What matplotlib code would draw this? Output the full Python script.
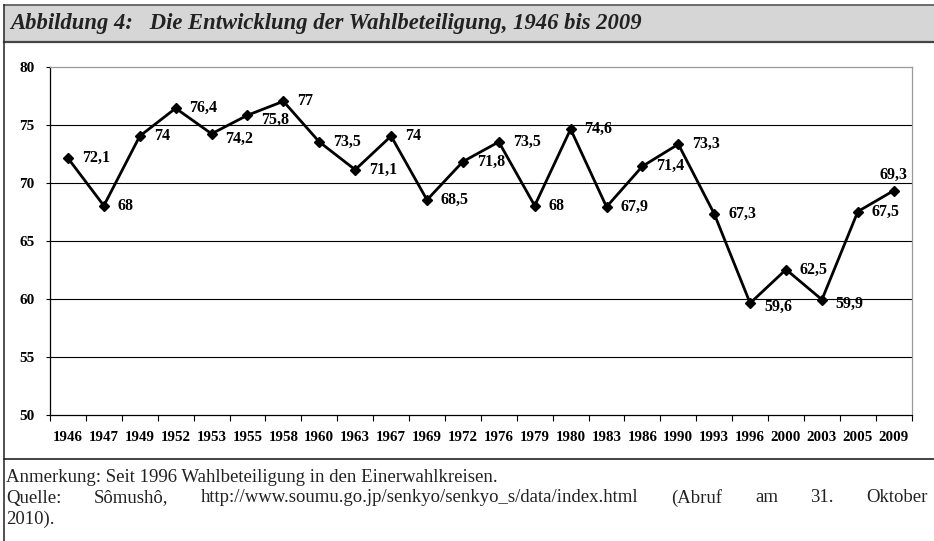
import matplotlib
matplotlib.use("Agg")
import matplotlib.pyplot as plt
from matplotlib.lines import Line2D
from matplotlib.patches import Rectangle

years = ["1946", "1947", "1949", "1952", "1953", "1955", "1958", "1960", "1963", "1967",
         "1969", "1972", "1976", "1979", "1980", "1983", "1986", "1990", "1993", "1996",
         "2000", "2003", "2005", "2009"]
turnout = [72.1, 68.0, 74.0, 76.4, 74.2, 75.8, 77.0, 73.5, 71.1, 74.0,
           68.5, 71.8, 73.5, 68.0, 74.6, 67.9, 71.4, 73.3, 67.3, 59.6,
           62.5, 59.9, 67.5, 69.3]
y_ticks = [50, 55, 60, 65, 70, 75, 80]

title = "Abbildung 4:   Die Entwicklung der Wahlbeteiligung, 1946 bis 2009"
note1 = "Anmerkung: Seit 1996 Wahlbeteiligung in den Einerwahlkreisen."
note2 = "Quelle: Sômushô, http://www.soumu.go.jp/senkyo/senkyo_s/data/index.html (Abruf am 31. Oktober"
note3 = "2010)."

W, H = 934, 541
serif = "Liberation Serif"

fig = plt.figure(figsize=(W / 100, H / 100), dpi=100)

def fx(px):
    return px / W

def fy(py):
    return 1 - py / H

# frame: title band, left border, separator
fig.add_artist(Rectangle((fx(4), fy(42)), 1 - fx(4), fy(5) - fy(42),
                         transform=fig.transFigure, facecolor="#d6d6d6",
                         edgecolor="none", zorder=0))
fig.add_artist(Line2D([fx(4), 1], [fy(5), fy(5)], color="#555555", lw=1.2))
fig.add_artist(Line2D([fx(4), 1], [fy(42), fy(42)], color="#444444", lw=1.6))
fig.add_artist(Line2D([fx(4), fx(4)], [fy(5), 0], color="#333333", lw=1.2))
fig.add_artist(Line2D([fx(4), 1], [fy(459), fy(459)], color="#222222", lw=1.2))

fig.text(fx(10), fy(24), title, family=serif, style="italic", fontweight="bold",
         fontsize=16.3, va="center", ha="left", color="#222222")

ax = fig.add_axes([fx(50), fy(414.5), fx(911.7) - fx(50), fy(66.5) - fy(414.5)])
x = list(range(len(years)))
ax.plot(x, turnout, color="black", lw=2.0, marker="D", markersize=5.5, zorder=3)

# label offsets (points) - mostly right of the marker
offsets = {4: (10, -4), 5: (10, -3), 19: (10, -3), 21: (10, -3), 23: (0, 11)}
for i, v in enumerate(turnout):
    lab = ("%g" % v).replace(".", ",")
    dx, dy = offsets.get(i, (10, 0))
    ha = "center" if i == 23 else "left"
    ax.annotate(lab, (i, v), xytext=(dx, dy), textcoords="offset points",
                ha=ha, va="center", family=serif, fontweight="bold", fontsize=11.5)

ax.set_xlim(-0.5, len(years) - 0.5)
ax.set_ylim(50, 80)
ax.set_yticks(y_ticks)
ax.set_yticklabels([str(t) for t in y_ticks], family=serif, fontweight="bold", fontsize=11)
ax.set_xticks(x)
ax.set_xticklabels(years, family=serif, fontweight="bold", fontsize=10.8)
ax.set_xticks([i - 0.5 for i in range(len(years) + 1)], minor=True)
ax.tick_params(axis="x", which="major", length=0, pad=12)
ax.tick_params(axis="x", which="minor", length=4, width=0.8, direction="out")
ax.tick_params(axis="y", length=3, width=0.8, pad=8)

for t in y_ticks[1:-1]:
    ax.axhline(t, color="black", lw=0.8, zorder=1)

ax.spines["left"].set_color("black")
ax.spines["bottom"].set_color("black")
ax.spines["top"].set_color("#999999")
ax.spines["right"].set_color("#999999")
for s in ax.spines.values():
    s.set_linewidth(0.9)

note_kw = dict(family=serif, fontsize=13.5, va="center", ha="left", color="#222222")
fig.text(fx(6), fy(477), note1, **note_kw)
fig.text(fx(6), fy(519), note3, **note_kw)

# second note line is justified to the right edge
renderer = fig.canvas.get_renderer()
words = note2.split(" ")
texts = [fig.text(0, fy(498), w, **note_kw) for w in words]
widths = [t.get_window_extent(renderer).width for t in texts]
left, right = 6, 928
gap = (right - left - sum(widths)) / (len(words) - 1)
pos = left
for t, w in zip(texts, widths):
    t.set_x(fx(pos))
    pos += w + gap

fig.savefig("out.png", dpi=100)
